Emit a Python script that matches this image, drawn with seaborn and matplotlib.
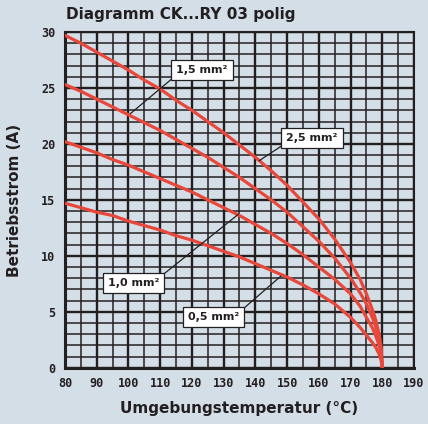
import matplotlib.pyplot as plt
import seaborn as sns
import pandas as pd
from matplotlib.ticker import MultipleLocator

# values
temperatur = [80, 85, 90, 95, 100, 105, 110, 115, 120, 125, 130, 135, 140, 145,
              150, 155, 160, 165, 170, 173, 175, 177, 178, 179, 179.6, 180]
strom_25 = [29.7, 29.0, 28.2, 27.4, 26.6, 25.7, 24.9, 23.9, 23.0, 22.0, 21.0, 19.9, 18.8, 17.6,
            16.3, 14.8, 13.3, 11.5, 9.4, 7.9, 6.6, 5.1, 4.2, 3.0, 1.9, 0.0]
strom_15 = [25.3, 24.7, 24.0, 23.3, 22.6, 21.9, 21.2, 20.4, 19.6, 18.8, 17.9, 17.0, 16.0, 15.0,
            13.9, 12.6, 11.3, 9.8, 8.0, 6.7, 5.7, 4.4, 3.6, 2.5, 1.6, 0.0]
strom_10 = [20.2, 19.7, 19.2, 18.6, 18.1, 17.5, 16.9, 16.3, 15.7, 15.0, 14.3, 13.6, 12.8, 12.0,
            11.1, 10.1, 9.0, 7.9, 6.6, 5.5, 4.5, 3.5, 2.8, 2.0, 1.3, 0.0]
strom_05 = [14.7, 14.3, 13.9, 13.6, 13.1, 12.7, 12.3, 11.8, 11.4, 10.9, 10.4, 9.9, 9.3, 8.7,
            8.1, 7.4, 6.6, 5.7, 4.5, 3.6, 2.9, 2.2, 1.8, 1.2, 0.7, 0.0]
querschnitte = ["2,5 mm²", "1,5 mm²", "1,0 mm²", "0,5 mm²"]

# label box centre and the point on the curve it refers to
label_pos = [(157.9, 20.55), (123.2, 26.6), (101.6, 7.6), (126.8, 4.5)]
label_ziel = [(141.2, 18.5), (100.6, 22.7), (134.6, 13.7), (148.1, 8.2)]
label_ecke = [(0, 0), (0, 0), (1, 1), (1, 1)]

bg = "#d3dee7"
rot = "#e8473a"
dunkel = "#231f20"

df = pd.concat([
    pd.DataFrame({"temp": temperatur, "strom": s, "q": q})
    for s, q in zip([strom_25, strom_15, strom_10, strom_05], querschnitte)
])

sns.set_style("white", {"axes.facecolor": bg, "figure.facecolor": bg})

fig = plt.figure(figsize=(4.28, 4.24), dpi=100)
ax = fig.add_axes([65 / 428, 1 - 367.7 / 424, 349 / 428, 335.7 / 424])

sns.lineplot(data=df, x="temp", y="strom", hue="q", hue_order=querschnitte,
             palette=[rot] * 4, legend=False, linewidth=2.3, ax=ax,
             sort=False, zorder=3)

ax.set_xlim(80, 190)
ax.set_ylim(0, 30)
ax.xaxis.set_major_locator(MultipleLocator(10))
ax.xaxis.set_minor_locator(MultipleLocator(5))
ax.yaxis.set_major_locator(MultipleLocator(5))
ax.yaxis.set_minor_locator(MultipleLocator(1))
ax.grid(which="major", color=dunkel, linewidth=1.7)
ax.grid(which="minor", color=dunkel, linewidth=1.1)
ax.set_axisbelow(True)
ax.tick_params(which="minor", length=0)
ax.tick_params(which="major", length=4, width=1.6, color=dunkel,
               direction="out", pad=3, labelcolor=dunkel)
for lab in ax.get_xticklabels() + ax.get_yticklabels():
    lab.set_fontfamily("DejaVu Sans Mono")
    lab.set_fontweight("bold")
    lab.set_fontsize(8.5)
for side in ["top", "right"]:
    ax.spines[side].set_color(dunkel)
    ax.spines[side].set_linewidth(1.5)
for side in ["left", "bottom"]:
    ax.spines[side].set_color(dunkel)
    ax.spines[side].set_linewidth(2.2)
ax.set_xlabel("")
ax.set_ylabel("")

for q, pos, ziel, ecke in zip(querschnitte, label_pos, label_ziel, label_ecke):
    ax.annotate(q, xy=ziel, xytext=pos, ha="center", va="center",
                fontsize=8, fontweight="bold", color=dunkel, zorder=5,
                bbox=dict(boxstyle="square,pad=0.45", fc="white", ec=dunkel, lw=0.9),
                arrowprops=dict(arrowstyle="-", color=dunkel, lw=0.9,
                                shrinkA=0, shrinkB=0, relpos=ecke))

fig.text(66 / 428, 1 - 14 / 424, "Diagramm CK...RY 03 polig", ha="left", va="center",
         fontsize=11, fontweight="bold", color=dunkel)
fig.text(239.5 / 428, 1 - 408 / 424, "Umgebungstemperatur (°C)", ha="center", va="center",
         fontsize=11, fontweight="bold", color=dunkel)
fig.text(15 / 428, 1 - 200 / 424, "Betriebsstrom (A)", ha="center", va="center",
         rotation=90, fontsize=11, fontweight="bold", color=dunkel)

fig.savefig("out.png", dpi=100, facecolor=bg)
